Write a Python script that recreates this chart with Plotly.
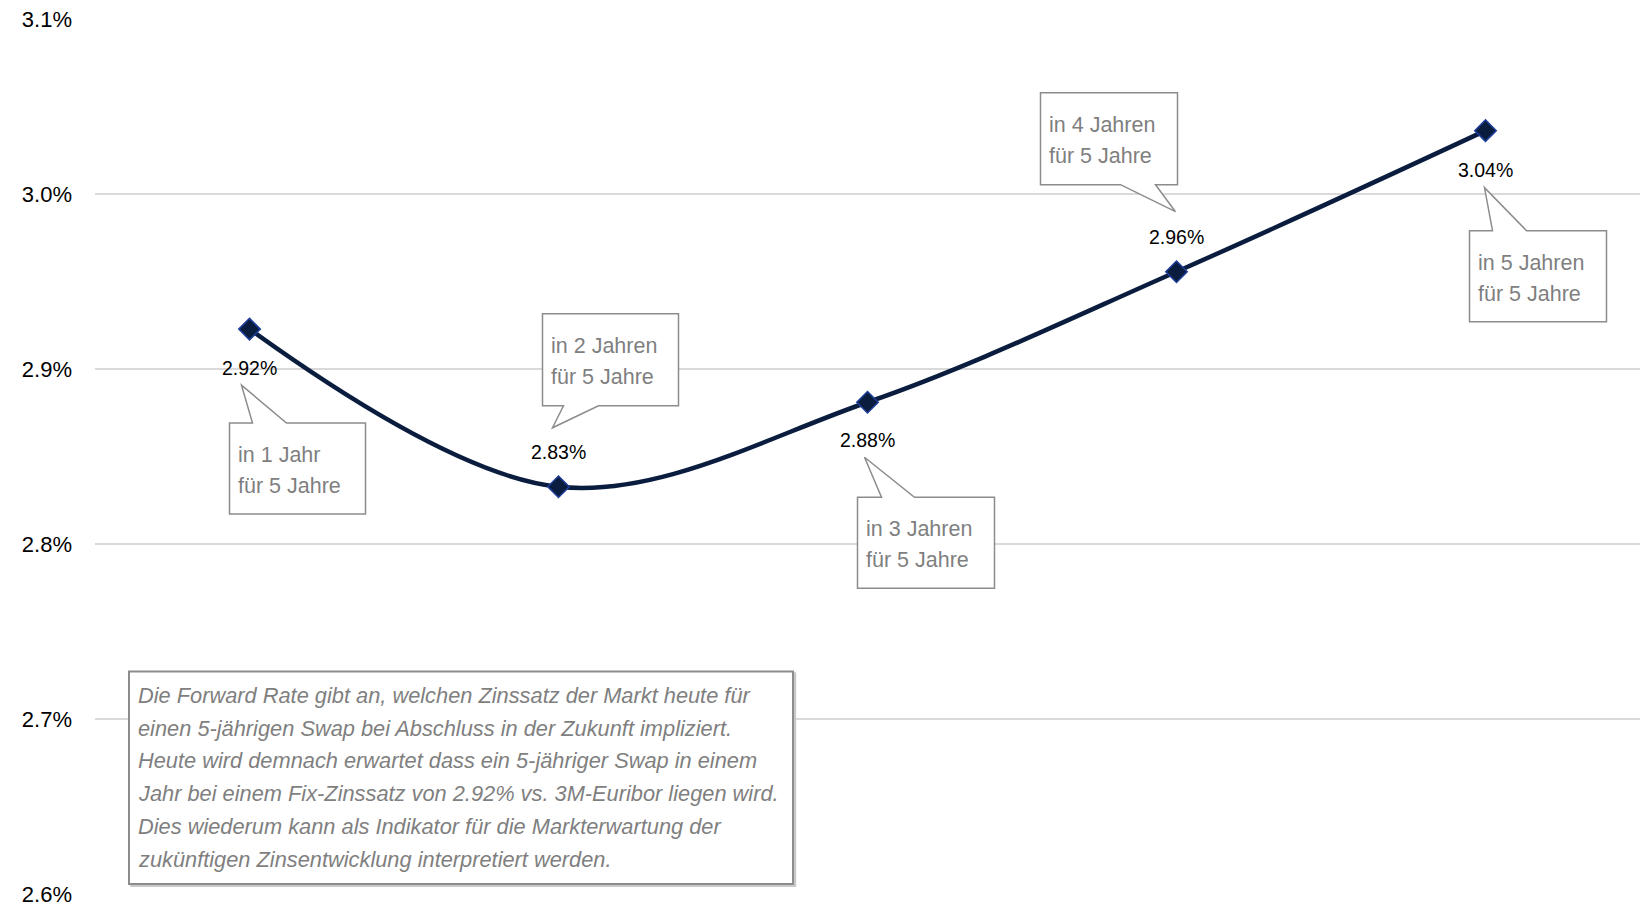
import plotly.graph_objects as go

# ---------------- data ----------------
periods = ["in 1 Jahr", "in 2 Jahren", "in 3 Jahren", "in 4 Jahren", "in 5 Jahren"]
tenor = "für 5 Jahre"
forward_rates = [2.9228, 2.8327, 2.8810, 2.9556, 3.0362]
rate_labels = ["2.92%", "2.83%", "2.88%", "2.96%", "3.04%"]
y_ticks = [2.6, 2.7, 2.8, 2.9, 3.0, 3.1]
y_tick_labels = ["2.6%", "2.7%", "2.8%", "2.9%", "3.0%", "3.1%"]
note_lines = [
    "Die Forward Rate gibt an, welchen Zinssatz der Markt heute für",
    "einen 5-jährigen Swap bei Abschluss in der Zukunft impliziert.",
    "Heute wird demnach erwartet dass ein 5-jähriger Swap in einem",
    "Jahr bei einem Fix-Zinssatz von 2.92% vs. 3M-Euribor liegen wird.",
    "Dies wiederum kann als Indikator für die Markterwartung der",
    "zukünftigen Zinsentwicklung interpretiert werden.",
]

# ---------------- styles / geometry ----------------
FONT = "Liberation Sans, Arial, sans-serif"
NAVY = "#0b1d3f"
MARKER_EDGE = "#1d3e9a"
GRAY_TXT = "#7f7f7f"
BOX_EDGE = "#8c8c8c"
GRID = "#d9d9d9"

# callout bubble geometry, pixel offsets from the data point (y measured downward)
callouts = [
    dict(L=-20, R=116, near=94, far=185, b0=3, b1=37, tx=-8, ty=56, lab=39),
    dict(L=-16, R=120, near=-81, far=-173, b0=5, b1=40, tx=-6, ty=-59, lab=-35),
    dict(L=-10, R=127, near=95, far=186, b0=14, b1=47, tx=-3, ty=55, lab=38),
    dict(L=-136, R=1, near=-87, far=-179, b0=-56, b1=-21, tx=-1, ty=-60, lab=-35),
    dict(L=-16, R=121, near=100, far=191, b0=7, b1=41, tx=-1, ty=57, lab=39),
]
CALLOUT_LINE_OFFSETS = [32, 63]   # line centres below the box top (px)

xs = list(range(len(periods)))

fig = go.Figure()
fig.add_trace(go.Scatter(
    x=xs, y=forward_rates, mode="lines+markers",
    line=dict(color=NAVY, width=4.5, shape="spline", smoothing=1.0),
    marker=dict(symbol="diamond", size=16.5, color=NAVY,
                line=dict(color=MARKER_EDGE, width=1.5)),
    hoverinfo="skip", showlegend=False,
))

shapes = []
annotations = []
for i, (p, v, lab, g) in enumerate(zip(periods, forward_rates, rate_labels, callouts)):
    ny, fy, ty = -g["near"], -g["far"], -g["ty"]
    path = (f"M {g['L']},{ny} L {g['b0']},{ny} L {g['tx']},{ty} L {g['b1']},{ny} "
            f"L {g['R']},{ny} L {g['R']},{fy} L {g['L']},{fy} Z")
    shapes.append(dict(
        type="path", path=path, xref="x", yref="y",
        xsizemode="pixel", ysizemode="pixel", xanchor=i, yanchor=v,
        line=dict(color=BOX_EDGE, width=1.5), fillcolor="white", layer="above",
    ))
    top = min(g["near"], g["far"])
    for line_text, off in zip([p, tenor], CALLOUT_LINE_OFFSETS):
        annotations.append(dict(
            x=i, y=v, xref="x", yref="y", showarrow=False,
            text=line_text, align="left", xanchor="left", yanchor="middle",
            xshift=g["L"] + 6, yshift=-(top + off),
            font=dict(family=FONT, size=21.5, color=GRAY_TXT),
        ))
    annotations.append(dict(
        x=i, y=v, xref="x", yref="y", showarrow=False, text=lab,
        xanchor="center", yanchor="middle", yshift=-g["lab"],
        font=dict(family=FONT, size=19.5, color="black"),
    ))

# explanatory note box
shapes.append(dict(type="rect", xref="paper", yref="paper",
                   x0=0.0235, x1=0.4532, y0=0.0092, y1=0.2522,
                   line=dict(color="#c9c9c9", width=2), fillcolor="#c9c9c9", layer="above"))
shapes.append(dict(type="rect", xref="paper", yref="paper",
                   x0=0.022, x1=0.4518, y0=0.0114, y1=0.2543,
                   line=dict(color=BOX_EDGE, width=2), fillcolor="white", layer="above"))
NOTE_TOP, NOTE_STEP = 0.2269, 0.0374
for k, t in enumerate(note_lines):
    annotations.append(dict(
        x=0.0268, y=NOTE_TOP - k * NOTE_STEP, xref="paper", yref="paper", showarrow=False,
        text=f"<i>{t}</i>", align="left", xanchor="left", yanchor="middle",
        font=dict(family=FONT, size=21.8, color=GRAY_TXT),
    ))

fig.update_layout(
    width=1642, height=909,
    margin=dict(l=95, r=2, t=19, b=13),
    paper_bgcolor="white", plot_bgcolor="white",
    shapes=shapes, annotations=annotations,
    font=dict(family=FONT, color="black"),
    xaxis=dict(range=[-0.5, len(periods) - 0.5], showgrid=False, zeroline=False,
               showticklabels=False, showline=False, fixedrange=True),
    yaxis=dict(range=[y_ticks[0], y_ticks[-1]], tickvals=y_ticks, ticktext=y_tick_labels,
               showgrid=True, gridcolor=GRID, gridwidth=1.5, zeroline=False,
               showline=False, ticks="", ticklabelstandoff=22,
               tickfont=dict(family=FONT, size=22, color="black"), fixedrange=True),
)

fig.write_html("out.html")
